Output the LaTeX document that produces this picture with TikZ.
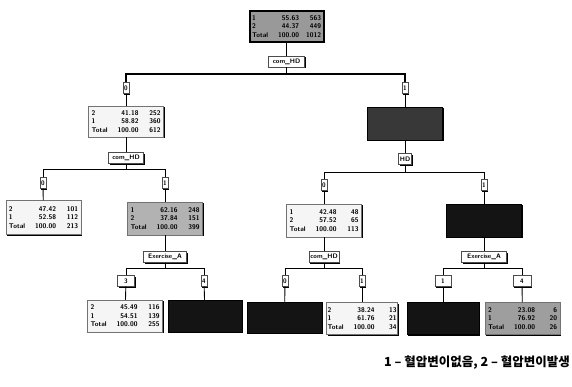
\documentclass[tikz,border=0pt]{standalone}
\usepackage{fontspec}
\newfontfamily\krfont{Noto Sans CJK KR}
\usetikzlibrary{shadows}
\newcommand{\nrow}[3]{\makebox[69pt]{\makebox[47pt][l]{#1\hfill #2}\hfill\makebox[18pt][r]{#3}}}
\tikzset{
 leaf/.style={rectangle, draw=black!55, line width=0.5pt, minimum width=75pt, minimum height=31pt, inner sep=1pt, align=center,
   font=\sffamily\bfseries\fontsize{6.8}{8.6}\selectfont,
   drop shadow={shadow xshift=1.4pt, shadow yshift=-1.4pt, opacity=1, fill=black}},
 whitebox/.style={leaf, fill=black!4},
 graybox/.style={leaf, fill=black!30},
 darkbox/.style={leaf, fill=black!92, draw=black},
 rootbox/.style={leaf, fill=black!40, draw=black, line width=2pt, minimum width=74pt},
 lab/.style={rectangle, draw=black!70, line width=0.4pt, fill=white, inner xsep=1.5pt, inner ysep=1pt, minimum height=11pt,
   font=\sffamily\bfseries\fontsize{6.5}{7}\selectfont,
   drop shadow={shadow xshift=1.2pt, shadow yshift=-1.2pt, opacity=1, fill=black}},
 conn/.style={draw=black, line width=0.9pt},
 bus/.style={draw=black, line width=1.4pt},
}
\begin{document}
\begin{tikzpicture}[x=1pt,y=-1pt]
\useasboundingbox (0,0) rectangle (572,387);
% root
\node[rootbox] (root) at (286.5,26.5) {\nrow{1}{55.63}{563}\\\nrow{2}{44.37}{449}\\\nrow{Total}{100.00}{1012}};
\node[lab, minimum width=36pt] (s0) at (286.5,61.5) {com\_HD};
\coordinate (j0) at (286.5,74);
\node[lab] (b00) at (126,88) {0};
\node[lab] (b01) at (405,88) {1};
\node[whitebox] (n1) at (126,121.5) {\nrow{2}{41.18}{252}\\\nrow{1}{58.82}{360}\\\nrow{Total}{100.00}{612}};
\node[darkbox, fill=black!78, minimum height=33pt] (n2) at (405,123.5) {};
% level 2 left
\node[lab, minimum width=35pt] (s1) at (126,158) {com\_HD};
\coordinate (j1) at (126,169);
\node[lab] (b10) at (43,183) {0};
\node[lab] (b11) at (165,183) {1};
\node[whitebox, minimum height=34pt] (n11) at (43.5,217.5) {\nrow{2}{47.42}{101}\\\nrow{1}{52.58}{112}\\\nrow{Total}{100.00}{213}};
\node[graybox, minimum height=33pt] (n12) at (165,218.5) {\nrow{1}{62.16}{248}\\\nrow{2}{37.84}{151}\\\nrow{Total}{100.00}{399}};
% level 2 right
\node[lab] (s2) at (405,159) {HD};
\coordinate (j2) at (405,172);
\node[lab] (b20) at (324,185) {0};
\node[lab] (b21) at (484,185) {1};
\node[whitebox, minimum height=33pt] (n21) at (324,220.5) {\nrow{1}{42.48}{48}\\\nrow{2}{57.52}{65}\\\nrow{Total}{100.00}{113}};
\node[darkbox, minimum height=33pt] (n22) at (484,220.5) {};
% level 3 under n12
\node[lab, minimum width=43pt] (s12) at (165,257) {Exercise\_A};
\coordinate (j12) at (165,268);
\node[lab, minimum width=17pt] (b120) at (126,281) {3};
\node[lab] (b121) at (204,281) {4};
\node[whitebox, minimum height=32pt] (n121) at (125,316) {\nrow{2}{45.49}{116}\\\nrow{1}{54.51}{139}\\\nrow{Total}{100.00}{255}};
\node[darkbox, minimum height=32pt, minimum width=74pt] (n122) at (205,316) {};
% level 3 under n21
\node[lab, minimum width=30pt] (s21) at (324,257) {com\_HD};
\coordinate (j21) at (324,268);
\node[lab] (b210) at (285,281) {0};
\node[lab] (b211) at (362,281) {1};
\node[darkbox, minimum height=31pt] (n211) at (284.5,317.5) {};
\node[whitebox, minimum height=32pt, minimum width=71pt] (n212) at (362,318.5) {\nrow{2}{38.24}{13}\\\nrow{1}{61.76}{21}\\\nrow{Total}{100.00}{34}};
% level 3 under n22
\node[lab, minimum width=45pt] (s22) at (484,257) {Exercise\_A};
\coordinate (j22) at (484,268);
\node[lab, minimum width=16pt] (b220) at (443,281) {1};
\node[lab, minimum width=18pt] (b221) at (522,281) {4};
\node[darkbox, minimum height=32pt, minimum width=72pt] (n221) at (443,318.5) {};
\node[graybox, fill=black!38, minimum height=32pt] (n222) at (522.5,318.5) {\nrow{2}{23.08}{6}\\\nrow{1}{76.92}{20}\\\nrow{Total}{100.00}{26}};
% connectors
\draw[conn] (root) -- (s0);
\draw[conn] (s0) -- (j0);
\draw[bus] (j0) -| (b00);
\draw[bus] (j0) -| (b01);
\draw[conn] (b00) -- (n1);
\draw[conn] (b01) -- (n2);
\draw[conn] (n1) -- (s1);
\draw[conn] (s1) -- (j1);
\draw[conn] (j1) -| (b10);
\draw[conn] (j1) -| (b11);
\draw[conn] (b10) -- (n11);
\draw[conn] (b11) -- (n12);
\draw[conn] (n2) -- (s2);
\draw[conn] (s2) -- (j2);
\draw[conn] (j2) -| (b20);
\draw[conn] (j2) -| (b21);
\draw[conn] (b20) -- (n21);
\draw[conn] (b21) -- (n22);
\draw[conn] (n12) -- (s12);
\draw[conn] (s12) -- (j12);
\draw[conn] (j12) -| (b120);
\draw[conn] (j12) -| (b121);
\draw[conn] (b120) -- (n121);
\draw[conn] (b121) -- (n122);
\draw[conn] (n21) -- (s21);
\draw[conn] (s21) -- (j21);
\draw[conn] (j21) -| (b210);
\draw[conn] (j21) -| (b211);
\draw[conn] (b210) -- (n211);
\draw[conn] (b211) -- (n212);
\draw[conn] (n22) -- (s22);
\draw[conn] (s22) -- (j22);
\draw[conn] (j22) -| (b220);
\draw[conn] (j22) -| (b221);
\draw[conn] (b220) -- (n221);
\draw[conn] (b221) -- (n222);
% caption
\node[font=\krfont\bfseries\fontsize{12.5}{15}\selectfont, anchor=east, inner sep=0pt] (cap) at (570,363) {1 – 혈압변이없음, 2 – 혈압변이발생};
\end{tikzpicture}
\end{document}
